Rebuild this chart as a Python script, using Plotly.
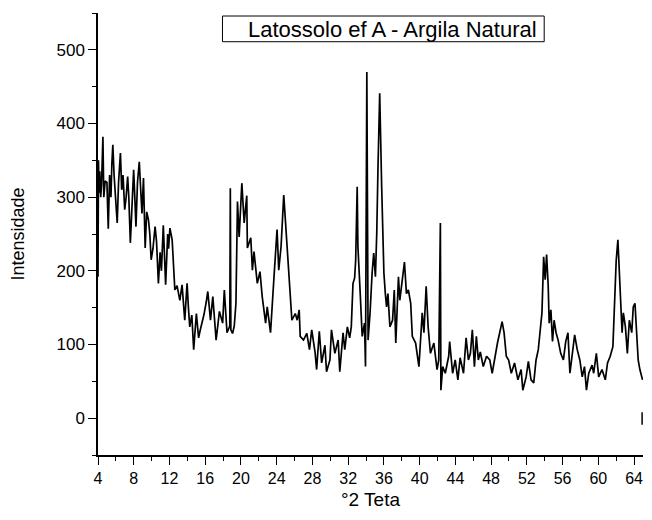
import plotly.graph_objects as go

# 2-theta positions (degrees) and intensities
two_theta = [
    4.0, 4.05, 4.12, 4.2, 4.3, 4.4, 4.55, 4.65, 4.8, 5.0, 5.15, 5.3, 5.45, 5.55, 5.66,
    5.8, 6.0, 6.15, 6.3, 6.51, 6.65, 6.8, 6.99, 7.15, 7.32, 7.45, 7.62, 7.8, 7.99,
    8.12, 8.25, 8.42, 8.62, 8.78, 8.92, 9.09, 9.28, 9.45, 9.65, 9.8, 9.95, 10.15,
    10.39, 10.55, 10.76, 10.95, 11.1, 11.31, 11.57, 11.8, 11.9, 12.05, 12.3, 12.6,
    12.85, 13.16, 13.41, 13.71, 13.97, 14.12, 14.27, 14.5, 14.71, 15.01, 15.26,
    15.45, 15.63, 15.85, 16.12, 16.29, 16.59, 16.85, 17.22, 17.59, 17.95, 18.14,
    18.44, 18.75, 18.81, 18.87, 19.06, 19.25, 19.44, 19.61, 19.8, 20.1, 20.36,
    20.65, 20.72, 21.1, 21.28, 21.46, 21.83, 22.13, 22.38, 22.76, 22.94, 23.31,
    23.68, 24.04, 24.23, 24.49, 24.79, 24.97, 25.15, 25.45, 25.7, 26.08, 26.3,
    26.52, 26.63, 27.0, 27.37, 27.67, 27.92, 28.3, 28.47, 28.77, 29.03, 29.4,
    29.58, 29.96, 30.13, 30.51, 30.88, 31.06, 31.43, 31.62, 31.91, 32.17, 32.35,
    32.54, 32.72, 32.84, 33.01, 33.09, 33.2, 33.35, 33.57, 33.83, 33.94, 34.09,
    34.23, 34.45, 34.68, 34.86, 35.05, 35.2, 35.34, 35.53, 35.75, 35.86, 36.0,
    36.16, 36.3, 36.45, 36.67, 36.97, 37.16, 37.33, 37.63, 37.78, 38.08, 38.3,
    38.52, 38.74, 39.0, 39.18, 39.55, 39.92, 40.29, 40.48, 40.73, 40.95, 41.21,
    41.59, 41.95, 42.14, 42.32, 42.38, 42.58, 42.87, 43.25, 43.36, 43.69, 43.98,
    44.28, 44.53, 44.91, 45.2, 45.46, 45.68, 45.9, 46.13, 46.35, 46.57, 46.79,
    47.12, 47.49, 47.85, 48.12, 48.41, 48.71, 48.96, 49.23, 49.45, 49.7, 49.96,
    50.26, 50.62, 51.0, 51.36, 51.55, 51.92, 52.17, 52.47, 52.77, 53.03, 53.28,
    53.5, 53.69, 53.88, 54.05, 54.21, 54.39, 54.5, 54.69, 54.87, 55.05, 55.27,
    55.5, 55.79, 56.09, 56.35, 56.6, 56.82, 57.09, 57.35, 57.64, 57.93, 58.2,
    58.45, 58.67, 58.93, 59.3, 59.48, 59.78, 60.04, 60.41, 60.78, 61.03, 61.33,
    61.63, 61.81, 62.0, 62.19, 62.36, 62.52, 62.66, 62.8, 63.03, 63.25, 63.47,
    63.74, 63.91, 64.1, 64.28, 64.46, 64.65, 64.95,
]
intensity = [
    192, 350, 306, 335, 300, 318, 382, 300, 322, 320, 257, 330, 300, 345, 371,
    330, 300, 265, 320, 360, 310, 330, 283, 300, 328, 300, 238, 290, 337,
    300, 260, 320, 348, 310, 278, 326, 231, 280, 269, 250, 215, 230,
    260, 240, 183, 225, 200, 262, 181, 250, 230, 258, 242, 174,
    180, 160, 181, 133, 183, 150, 124, 140, 93, 142, 109,
    120, 129, 140, 158, 172, 133, 165, 106, 145, 129, 174,
    116, 125, 312, 120, 115, 125, 156, 294, 246, 319, 265,
    302, 231, 245, 201, 226, 183, 199, 165, 129, 151, 116,
    188, 256, 201, 233, 303, 269, 224, 174, 133, 142, 133,
    147, 111, 106, 115, 93, 120, 89, 66, 118, 75, 99,
    63, 79, 120, 88, 106, 63, 116, 93, 124, 109, 124,
    183, 190, 214, 314, 233, 210, 169, 111, 129, 70, 470,
    106, 143, 197, 224, 192, 251, 341, 441, 314, 238, 197,
    169, 151, 169, 124, 133, 174, 102, 192, 160, 188, 212,
    169, 174, 156, 111, 102, 70, 143, 116, 179, 124, 88,
    102, 66, 79, 265, 38, 70, 61, 84, 104, 61, 79,
    52, 82, 61, 109, 79, 88, 120, 70, 111, 79, 90,
    70, 84, 79, 61, 84, 102, 116, 131, 116, 84, 79,
    61, 75, 52, 66, 38, 56, 77, 52, 48, 79, 93,
    120, 143, 219, 188, 222, 179, 129, 147, 104, 133, 116,
    106, 88, 79, 104, 116, 61, 88, 113, 93, 79, 56,
    70, 38, 61, 72, 61, 88, 56, 66, 52, 75, 84,
    97, 147, 214, 242, 201, 160, 116, 143, 124, 88, 133,
    116, 151, 156, 106, 79, 66, 52,
]

# small stray mark at the right edge near zero
edge_mark_x = [64.9, 64.9]
edge_mark_y = [-9, 8]

x_ticks = [4, 8, 12, 16, 20, 24, 28, 32, 36, 40, 44, 48, 52, 56, 60, 64]
y_ticks = [0, 100, 200, 300, 400, 500]

title_text = "Latossolo ef A - Argila Natural"
x_title = "°2 Teta"
y_title = "Intensidade"

FONT = "Liberation Sans, Arial, sans-serif"

fig = go.Figure()
fig.add_trace(go.Scatter(x=two_theta, y=intensity, mode="lines",
                         line=dict(color="black", width=1.7), showlegend=False,
                         hoverinfo="skip"))
fig.add_trace(go.Scatter(x=edge_mark_x, y=edge_mark_y, mode="lines",
                         line=dict(color="black", width=1.5), showlegend=False,
                         hoverinfo="skip"))

# the page body adds an 8px margin on each side, so the figure is sized to fit
fig.update_layout(
    width=636, height=504,
    margin=dict(l=90, r=1, t=5, b=57),
    paper_bgcolor="white", plot_bgcolor="white",
    font=dict(family=FONT, color="black", size=16),
    xaxis=dict(range=[4, 65], tickvals=x_ticks, ticks="outside", ticklen=8,
               tickwidth=1.3, tickcolor="black", showline=True, linecolor="black",
               linewidth=1.5, showgrid=False, zeroline=False, automargin=False,
               ticklabeloverflow="allow",
               minor=dict(dtick=2, tick0=4, ticks="outside", ticklen=4,
                          tickwidth=1.3, tickcolor="black"),
               tickfont=dict(size=16),
               title=dict(text=x_title, font=dict(size=19), standoff=7)),
    yaxis=dict(range=[-50, 550], tickvals=y_ticks, ticks="outside", ticklen=8,
               tickwidth=1.3, tickcolor="black", showline=True, linecolor="black",
               linewidth=1.5, showgrid=False, zeroline=False, automargin=False,
               minor=dict(dtick=50, tick0=-50, ticks="outside", ticklen=4,
                          tickwidth=1.3, tickcolor="black"),
               tickfont=dict(size=17),
               title=dict(text=y_title, font=dict(size=18), standoff=28)),
    shapes=[dict(type="rect", xref="paper", yref="paper",
                 x0=0.2284, x1=0.8187, y0=0.935, y1=0.9932,
                 line=dict(color="black", width=1), fillcolor="white")],
    annotations=[dict(text=title_text, xref="paper", yref="paper",
                      x=0.2723, y=0.9638, xanchor="left", yanchor="middle",
                      showarrow=False, font=dict(size=22, family=FONT))],
)

fig.write_html("out.html")
